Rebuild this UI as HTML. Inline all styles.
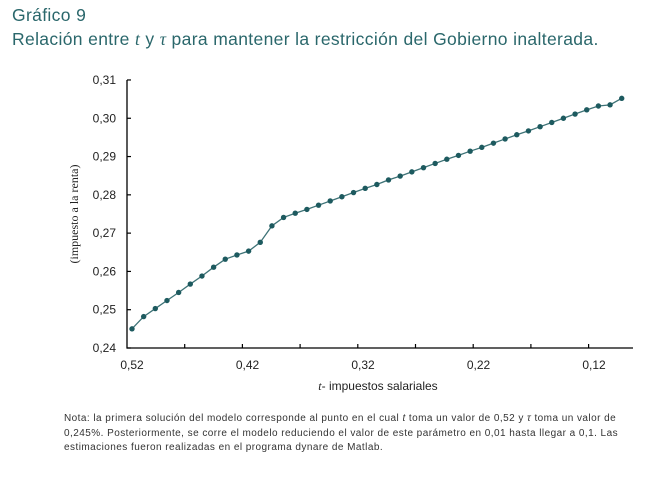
<!DOCTYPE html>
<html><head><meta charset="utf-8"><style>
body{margin:0;background:#fff;width:659px;height:493px;overflow:hidden;font-family:"Liberation Sans",sans-serif}
.t{position:absolute;left:12px;color:#2a676b;font-size:17.5px;letter-spacing:0.35px;white-space:nowrap}
.note{position:absolute;left:64px;top:412px;font-size:10px;letter-spacing:0.45px;line-height:14.5px;color:#333;white-space:nowrap}
</style></head><body>
<div class="t" style="top:5px">Gráfico 9</div>
<div class="t" style="top:29px">Relación entre <i style="font-family:'Liberation Serif',serif">t</i> y <i style="font-family:'Liberation Serif',serif">τ</i> para mantener la restricción del Gobierno inalterada.</div>
<svg id="c" width="659" height="493" style="position:absolute;left:0;top:0"></svg>
<div class="note">Nota: la primera solución del modelo corresponde al punto en el cual <i>t</i> toma un valor de 0,52 y <i>τ</i> toma un valor de<br>0,245%. Posteriormente, se corre el modelo reduciendo el valor de este parámetro en 0,01 hasta llegar a 0,1. Las<br>estimaciones fueron realizadas en el programa dynare de Matlab.</div>
<script>
const tValues=[0.52,0.51,0.50,0.49,0.48,0.47,0.46,0.45,0.44,0.43,0.42,0.41,0.40,0.39,0.38,0.37,0.36,0.35,0.34,0.33,0.32,0.31,0.30,0.29,0.28,0.27,0.26,0.25,0.24,0.23,0.22,0.21,0.20,0.19,0.18,0.17,0.16,0.15,0.14,0.13,0.12,0.11,0.10];
const tauValues=[0.2450,0.2482,0.2503,0.2524,0.2545,0.2567,0.2588,0.2611,0.2632,0.2643,0.2653,0.2676,0.2719,0.2741,0.2752,0.2762,0.2773,0.2784,0.2795,0.2806,0.2817,0.2827,0.2839,0.2849,0.2860,0.2871,0.2882,0.2893,0.2903,0.2914,0.2924,0.2935,0.2946,0.2957,0.2967,0.2978,0.2989,0.3000,0.3011,0.3022,0.3032,0.3035,0.3052];
const yTicks=[0.24,0.25,0.26,0.27,0.28,0.29,0.30,0.31];
const xTickLabels=[0.52,0.42,0.32,0.22,0.12];
const NS='http://www.w3.org/2000/svg',svg=document.getElementById('c');
const x=v=>132+(0.52-v)*1166, y=v=>348-(v-0.24)*3829;
function mk(t,a,p){const e=document.createElementNS(NS,t);for(const k in a)e.setAttribute(k,a[k]);(p||svg).appendChild(e);return e;}
const fmt=v=>v.toFixed(2).replace('.',',');
let ax=mk('path',{d:'M127,80 V348 H633',fill:'none',stroke:'#000','stroke-width':1.3});


yTicks.forEach(v=>{
 let l=mk('line',{x1:127,x2:131,y1:y(v),y2:y(v),stroke:'#000','stroke-width':1.2});
 
 
 let t=mk('text',{x:116,y:y(v)+4,'text-anchor':'end','font-size':12,fill:'#222'});t.textContent=fmt(v);
 
 
});
for(let k=1;k<=8;k++){
 let xx=127+57.7*k;
 let l=mk('line',{x1:xx,x2:xx,y1:348,y2:344,stroke:'#000','stroke-width':1.2});
 
 
}
xTickLabels.forEach(v=>{
 let t=mk('text',{x:132+(0.52-v)*1155,y:369,'text-anchor':'middle','font-size':12,fill:'#222'});t.textContent=fmt(v);
 
 
});
let xt=mk('text',{x:378,y:390,'text-anchor':'middle','font-size':12,fill:'#222'});
xt.innerHTML='<tspan font-style="italic" font-family="Liberation Serif">t</tspan>- impuestos salariales';


let yt=mk('text',{x:0,y:0,'text-anchor':'middle','font-size':12,fill:'#222','font-family':'Liberation Serif',transform:'translate(78,214) rotate(-90)'});
yt.textContent='(impuesto a la renta)';


let pts=tValues.map((t,i)=>x(t)+','+y(tauValues[i])).join(' ');
let ln=mk('polyline',{points:pts,fill:'none',stroke:'#3d7276','stroke-width':1.3});


tValues.forEach((t,i)=>{
 let c=mk('circle',{cx:x(t),cy:y(tauValues[i]),r:2.7,fill:'#1d5a5f'});
 
 
});
</script>
</body></html>
